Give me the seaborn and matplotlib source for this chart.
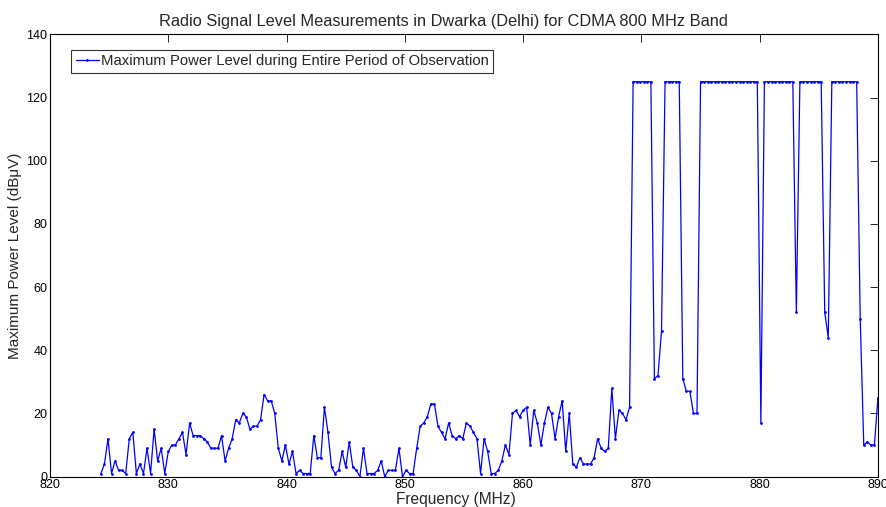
import numpy as np
import pandas as pd
import matplotlib
matplotlib.use('Agg')
import matplotlib.pyplot as plt
import seaborn as sns

# frequency grid of the sweep (MHz), 0.3 MHz step
freq = np.round(824.3 + 0.3 * np.arange(220), 1)

# maximum power level (dBuV)
power = [
    1, 4, 12, 1, 5, 2, 2, 1, 12, 14,
    1, 4, 1, 9, 1, 15, 5, 9, 1, 8,
    10, 10, 12, 14, 7, 17, 13, 13, 13, 12,
    11, 9, 9, 9, 13, 5, 9, 12, 18, 17,
    20, 19, 15, 16, 16, 18, 26, 24, 24, 20,
    9, 5, 10, 4, 8, 1, 2, 1, 1, 1,
    13, 6, 6, 22, 14, 3, 1, 2, 8, 3,
    11, 3, 2, 0, 9, 1, 1, 1, 2, 5,
    0, 2, 2, 2, 9, 0, 2, 1, 1, 9,
    16, 17, 19, 23, 23, 16, 14, 12, 17, 13,
    12, 13, 12, 17, 16, 14, 12, 1, 12, 8,
    1, 1, 2, 5, 10, 7, 20, 21, 19, 21,
    22, 10, 21, 17, 10, 17, 22, 20, 12, 19,
    24, 8, 20, 4, 3, 6, 4, 4, 4, 6,
    12, 9, 8, 9, 28, 12, 21, 20, 18, 22,
    125, 125, 125, 125, 125, 125,
    31, 32, 46,
    125, 125, 125, 125, 125,
    31, 27, 27, 20, 20,
    125, 125, 125, 125, 125, 125, 125, 125, 125, 125, 125, 125, 125, 125, 125, 125, 125,
    17,
    125, 125, 125, 125, 125, 125, 125, 125, 125,
    52,
    125, 125, 125, 125, 125, 125, 125,
    52, 44,
    125, 125, 125, 125, 125, 125, 125, 125,
    50, 10, 11, 10, 10, 25,
]

x_ticks = [820, 830, 840, 850, 860, 870, 880, 890]
y_ticks = [0, 20, 40, 60, 80, 100, 120, 140]

df = pd.DataFrame({'Frequency': freq, 'Power': power})

sns.set_style('white')
plt.rcParams['font.family'] = ['Liberation Sans', 'DejaVu Sans']

fig = plt.figure(figsize=(8.87, 5.07), dpi=100)
ax = fig.add_axes([0.0564, 0.0598, 0.9334, 0.8725])

sns.lineplot(data=df, x='Frequency', y='Power', ax=ax, color='#0000ff',
             linewidth=0.9, marker='.', markersize=4, markeredgewidth=0,
             label='Maximum Power Level during Entire Period of Observation')

ax.set_xlim(820, 890)
ax.set_ylim(0, 140)
ax.set_xticks(x_ticks)
ax.set_yticks(y_ticks)
ax.tick_params(direction='in', length=6, width=0.6, labelsize=9,
               top=True, right=True, colors='black', pad=2)
for s in ax.spines.values():
    s.set_color('black')
    s.set_linewidth(0.8)

ax.set_title('Radio Signal Level Measurements in Dwarka (Delhi) for CDMA 800 MHz Band',
             fontsize=11.8, pad=6, x=0.4752)
ax.set_xlabel('Frequency (MHz)', fontsize=11.2)
ax.xaxis.set_label_coords(0.4897, -0.0355, transform=ax.transAxes)
ax.xaxis.label.set_va('top')
ax.set_ylabel('Maximum Power Level (dB\u03bcV)', fontsize=11, labelpad=3)

leg = ax.legend(loc='upper left', bbox_to_anchor=(0.0254, 0.9645),
                borderaxespad=0, fontsize=10.7, numpoints=1, handlelength=1.6,
                frameon=True, fancybox=False, borderpad=0.3, handletextpad=0.1)
leg.get_frame().set_edgecolor('black')
leg.get_frame().set_linewidth(0.8)

fig.savefig('out.png', dpi=100)
